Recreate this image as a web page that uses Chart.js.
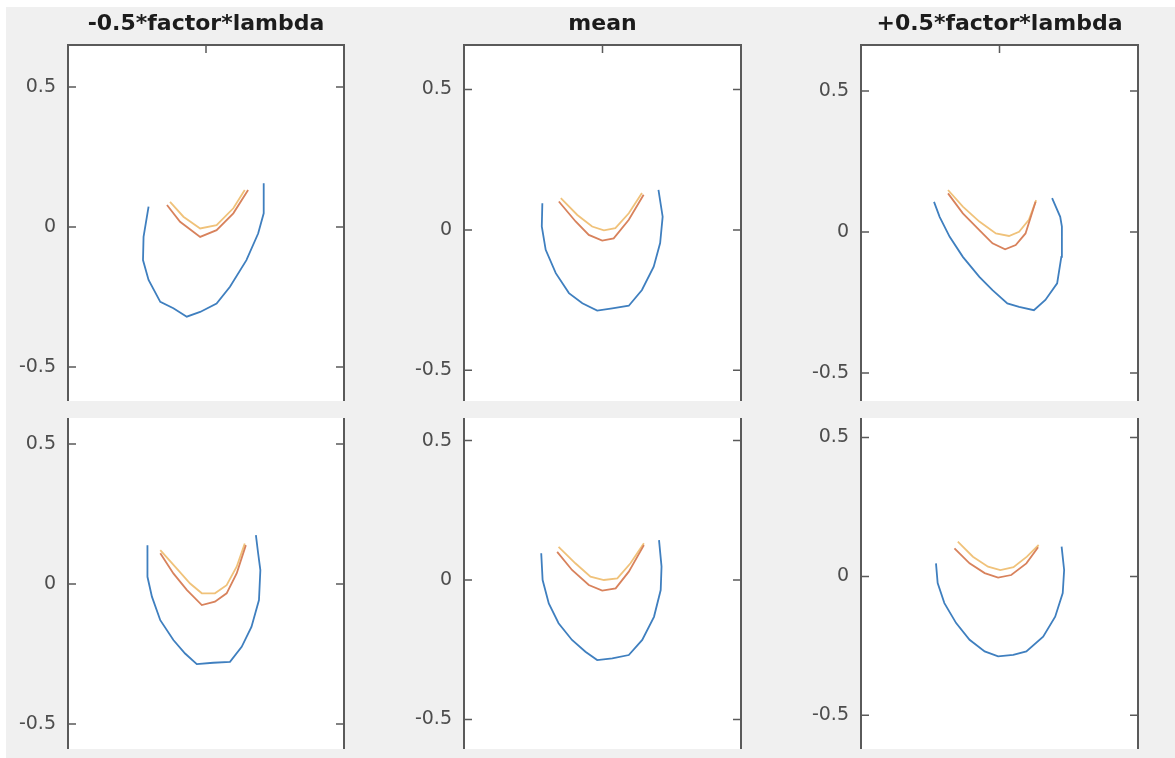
<!DOCTYPE html>
<html>
<head>
<meta charset="utf-8">
<title>factor * lambda</title>
<script src="https://cdn.jsdelivr.net/npm/chart.js@4.4.1/dist/chart.umd.min.js"></script>
<style>
  html, body { margin: 0; padding: 0; }
  body { width: 1175px; height: 758px; background: #f0f0f0; position: relative; overflow: hidden; }
  .edge-top { position: absolute; left: 0; top: 0; width: 1175px; height: 7px; background: #fff; }
  .edge-left { position: absolute; left: 0; top: 0; width: 6px; height: 758px; background: #fff; }
  canvas { position: absolute; }
</style>
</head>
<body>
<div class="edge-top"></div>
<div class="edge-left"></div>

<script>
// panel titles (only the top row has them) and y tick labels
const panelTitles = ['-0.5*factor*lambda', 'mean', '+0.5*factor*lambda', '', '', ''];
const yTicks = [-0.5, 0, 0.5];

// visible y range of each panel (the figure crops each axes a bit differently)
const yMaxs = [0.650, 0.658, 0.663, 0.593, 0.581, 0.570];
const yMins = [-0.621, -0.609, -0.599, -0.589, -0.606, -0.621];
const xLim = 0.495;

// top row
const blueTL = [[-0.206,0.073],[-0.224,-0.035],[-0.226,-0.118],[-0.206,-0.189],[-0.164,-0.267],[-0.117,-0.290],[-0.069,-0.320],[-0.021,-0.303],[0.038,-0.273],[0.086,-0.213],[0.145,-0.118],[0.187,-0.023],[0.207,0.049],[0.207,0.156]];
const orangeTL = [[-0.140,0.079],[-0.093,0.019],[-0.021,-0.035],[0.038,-0.011],[0.098,0.049],[0.151,0.132]];
const yellowTL = [[-0.129,0.090],[-0.081,0.037],[-0.021,-0.005],[0.038,0.007],[0.098,0.067],[0.139,0.132]];

const blueTM = [[-0.215,0.095],[-0.217,0.012],[-0.203,-0.071],[-0.167,-0.154],[-0.120,-0.225],[-0.072,-0.261],[-0.019,-0.287],[0.035,-0.279],[0.094,-0.270],[0.141,-0.214],[0.183,-0.131],[0.206,-0.047],[0.215,0.047],[0.200,0.142]];
const orangeTM = [[-0.156,0.101],[-0.096,0.030],[-0.049,-0.018],[-0.001,-0.038],[0.040,-0.030],[0.094,0.036],[0.147,0.125]];
const yellowTM = [[-0.149,0.113],[-0.090,0.053],[-0.037,0.012],[0.005,-0.002],[0.046,0.006],[0.094,0.059],[0.141,0.131]];

const blueTR = [[-0.234,0.107],[-0.214,0.054],[-0.178,-0.017],[-0.131,-0.088],[-0.072,-0.159],[-0.025,-0.206],[0.028,-0.253],[0.070,-0.265],[0.123,-0.277],[0.164,-0.241],[0.206,-0.182],[0.221,-0.088],[0.223,0.019],[0.217,0.054],[0.188,0.120]];
const orangeTR = [[-0.184,0.137],[-0.131,0.066],[-0.072,0.007],[-0.025,-0.040],[0.020,-0.061],[0.058,-0.046],[0.093,-0.005],[0.129,0.107]];
const yellowTR = [[-0.184,0.149],[-0.131,0.090],[-0.072,0.037],[-0.013,-0.005],[0.034,-0.014],[0.070,0.001],[0.105,0.043],[0.131,0.113]];

// bottom row
const blueBL = [[-0.210,0.139],[-0.210,0.026],[-0.194,-0.045],[-0.164,-0.129],[-0.117,-0.200],[-0.075,-0.248],[-0.033,-0.286],[0.026,-0.281],[0.086,-0.278],[0.128,-0.224],[0.163,-0.153],[0.190,-0.057],[0.195,0.050],[0.187,0.110],[0.179,0.175]];
const orangeBL = [[-0.164,0.110],[-0.117,0.038],[-0.069,-0.021],[-0.015,-0.075],[0.032,-0.063],[0.074,-0.033],[0.110,0.038],[0.143,0.139]];
const yellowBL = [[-0.164,0.121],[-0.111,0.062],[-0.057,0.002],[-0.015,-0.033],[0.032,-0.033],[0.074,-0.004],[0.110,0.062],[0.139,0.145]];

const blueBM = [[-0.219,0.096],[-0.214,0.000],[-0.192,-0.084],[-0.157,-0.155],[-0.109,-0.215],[-0.061,-0.257],[-0.019,-0.287],[0.035,-0.281],[0.094,-0.269],[0.142,-0.215],[0.184,-0.132],[0.208,-0.036],[0.211,0.048],[0.202,0.143]];
const orangeBM = [[-0.162,0.101],[-0.109,0.036],[-0.049,-0.018],[-0.001,-0.038],[0.047,-0.030],[0.094,0.030],[0.148,0.125]];
const yellowBM = [[-0.157,0.119],[-0.097,0.060],[-0.043,0.012],[0.005,0.000],[0.053,0.006],[0.100,0.060],[0.148,0.132]];

const blueBR = [[-0.227,0.047],[-0.221,-0.024],[-0.197,-0.096],[-0.155,-0.168],[-0.107,-0.228],[-0.053,-0.270],[-0.005,-0.288],[0.049,-0.282],[0.096,-0.270],[0.156,-0.217],[0.199,-0.145],[0.226,-0.060],[0.231,0.023],[0.222,0.107]];
const orangeBR = [[-0.161,0.101],[-0.107,0.047],[-0.053,0.012],[-0.005,-0.004],[0.042,0.005],[0.096,0.047],[0.138,0.105]];
const yellowBR = [[-0.149,0.125],[-0.095,0.071],[-0.041,0.035],[0.003,0.023],[0.050,0.033],[0.098,0.071],[0.140,0.113]];

const panelSeries = [
    [blueTL, orangeTL, yellowTL],
    [blueTM, orangeTM, yellowTM],
    [blueTR, orangeTR, yellowTR],
    [blueBL, orangeBL, yellowBL],
    [blueBM, orangeBM, yellowBM],
    [blueBR, orangeBR, yellowBR]
];

// layout of the axes boxes in page pixels
const AXIS_W = 70;
const boxLefts = [68, 464, 861];
const boxWidths = [276, 277, 277];
const rowTops = [0, 418];
const rowHeights = [401, 331];
const seriesColors = ['#3f7fbf', '#d8825c', '#f0c27a'];

// MATLAB like box: white area, frame and inward tick marks
const matlabAxes = {
    id: 'matlabAxes',
    beforeDraw(chart) {
        const a = chart.chartArea;
        const ctx = chart.ctx;
        ctx.save();
        ctx.fillStyle = '#ffffff';
        ctx.fillRect(a.left, a.top, a.right - a.left, a.bottom - a.top);
        ctx.restore();
    },
    afterDraw(chart, args, opts) {
        const a = chart.chartArea;
        const ctx = chart.ctx;
        const ys = chart.scales.y;
        ctx.save();
        ctx.strokeStyle = '#5a5a5a';
        ctx.lineWidth = 2;
        ctx.beginPath();
        ctx.moveTo(a.left, a.bottom);
        ctx.lineTo(a.left, a.top);
        if (opts.topEdge) {
            ctx.lineTo(a.right, a.top);
        } else {
            ctx.moveTo(a.right, a.top);
        }
        ctx.lineTo(a.right, a.bottom);
        ctx.stroke();

        ctx.lineWidth = 1.5;
        ctx.beginPath();
        yTicks.forEach(v => {
            const p = ys.getPixelForValue(v);
            ctx.moveTo(a.left, p);
            ctx.lineTo(a.left + 8, p);
            ctx.moveTo(a.right, p);
            ctx.lineTo(a.right - 8, p);
        });
        if (opts.topEdge) {
            const px = chart.scales.x.getPixelForValue(0);
            ctx.moveTo(px, a.top);
            ctx.lineTo(px, a.top + 8);
        }
        ctx.stroke();
        ctx.restore();
    }
};

function fixWidth(scale) {
    scale.width = AXIS_W;
    scale.paddingTop = 0;
    scale.paddingBottom = 0;
}

panelSeries.forEach((series, i) => {
    const row = i < 3 ? 0 : 1;
    const col = i % 3;
    const canvas = document.createElement('canvas');
    canvas.width = boxWidths[col] + 2 * AXIS_W;
    canvas.height = rowHeights[row];
    canvas.style.left = (boxLefts[col] - AXIS_W) + 'px';
    canvas.style.top = rowTops[row] + 'px';
    document.body.appendChild(canvas);

    new Chart(canvas.getContext('2d'), {
        type: 'scatter',
        data: {
            datasets: series.map((pts, k) => ({
                data: pts.map(p => ({ x: p[0], y: p[1] })),
                showLine: true,
                borderColor: seriesColors[k],
                borderWidth: 1.8,
                pointRadius: 0,
                fill: false,
                tension: 0
            }))
        },
        options: {
            responsive: false,
            animation: false,
            events: [],
            layout: { padding: 0 },
            scales: {
                x: { type: 'linear', min: -xLim, max: xLim, display: false },
                y: {
                    type: 'linear',
                    position: 'left',
                    min: yMins[i],
                    max: yMaxs[i],
                    afterBuildTicks: s => { s.ticks = yTicks.map(v => ({ value: v })); },
                    afterFit: fixWidth,
                    grid: { display: false, drawTicks: false },
                    border: { display: false },
                    ticks: {
                        padding: 12,
                        color: '#4d4d4d',
                        font: { family: 'DejaVu Sans', size: 19 },
                        callback: v => String(v)
                    }
                },
                yRight: {
                    type: 'linear',
                    position: 'right',
                    afterFit: fixWidth,
                    grid: { display: false, drawTicks: false },
                    border: { display: false },
                    ticks: { display: false }
                }
            },
            plugins: {
                legend: { display: false },
                tooltip: { enabled: false },
                title: {
                    display: row === 0,
                    text: panelTitles[i],
                    color: '#1c1c1c',
                    font: { family: 'DejaVu Sans', size: 22, weight: 'bold' },
                    padding: { top: 11, bottom: 7.6 }
                },
                matlabAxes: { topEdge: row === 0 }
            }
        },
        plugins: [matlabAxes]
    });
});
</script>
</body>
</html>
